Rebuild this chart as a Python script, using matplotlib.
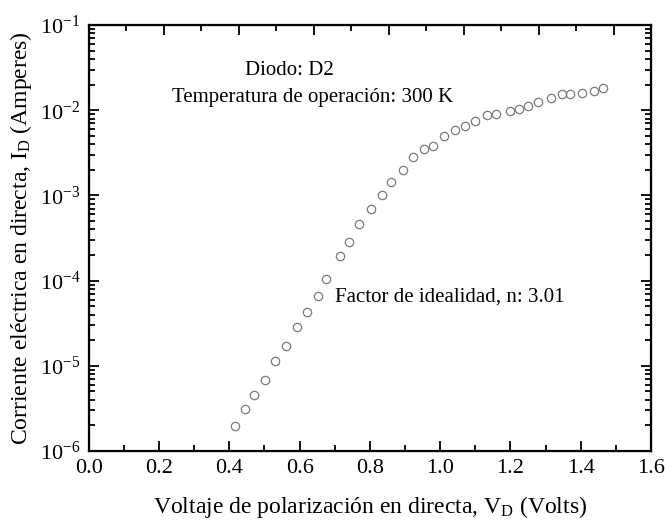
import numpy as np
import matplotlib.pyplot as plt
from matplotlib.ticker import MultipleLocator, LogLocator, NullFormatter

plt.rcParams['font.family'] = ['Liberation Serif', 'DejaVu Serif']
plt.rcParams['mathtext.fontset'] = 'custom'
plt.rcParams['mathtext.rm'] = 'Liberation Serif'
plt.rcParams['mathtext.it'] = 'Liberation Serif:italic'

voltaje = [0.416, 0.446, 0.471, 0.503, 0.529, 0.561, 0.594, 0.620, 0.652, 0.675,
           0.716, 0.740, 0.768, 0.803, 0.834, 0.860, 0.895, 0.922, 0.955, 0.979,
           1.010, 1.041, 1.071, 1.100, 1.133, 1.158, 1.198, 1.223, 1.251, 1.278,
           1.315, 1.346, 1.370, 1.404, 1.438, 1.462]
corriente = [1.96e-6, 3.14e-6, 4.58e-6, 6.81e-6, 1.15e-5, 1.69e-5, 2.88e-5, 4.25e-5,
             6.55e-5, 1.05e-4, 1.93e-4, 2.84e-4, 4.62e-4, 6.87e-4, 1.00e-3, 1.43e-3,
             1.99e-3, 2.85e-3, 3.53e-3, 3.83e-3, 4.98e-3, 5.90e-3, 6.47e-3, 7.41e-3,
             8.71e-3, 9.10e-3, 9.86e-3, 1.03e-2, 1.13e-2, 1.25e-2, 1.40e-2, 1.54e-2,
             1.54e-2, 1.60e-2, 1.68e-2, 1.81e-2]

fig = plt.figure(figsize=(6.65, 5.22), dpi=100)
ax = fig.add_axes([0.1334, 0.136, 0.8456, 0.816])

ax.plot(voltaje, corriente, 'o', mfc='none', mec='#7a7a7a', ms=6, mew=0.9)

ax.set_yscale('log')
ax.set_xlim(0, 1.6)
ax.set_ylim(1e-6, 1e-1)
ax.xaxis.set_major_locator(MultipleLocator(0.2))
ax.xaxis.set_minor_locator(MultipleLocator(0.1))
ax.xaxis.set_major_formatter(plt.FormatStrFormatter('%.1f'))
ax.yaxis.set_major_locator(LogLocator(base=10, numticks=10))
ax.yaxis.set_minor_locator(LogLocator(base=10, subs=np.arange(2, 10), numticks=10))
ax.yaxis.set_minor_formatter(NullFormatter())

ax.tick_params(which='both', direction='in', right=True, width=1.3, labelsize=16)
ax.tick_params(which='major', length=7, pad=6)
ax.tick_params(which='minor', length=4)
for s in ax.spines.values():
    s.set_linewidth(1.6)

# eje superior (0 a 1.5, como en el original)
top = ax.twiny()
top.set_xlim(0, 1.5)
top.xaxis.set_major_locator(MultipleLocator(0.2))
top.xaxis.set_minor_locator(MultipleLocator(0.1))
top.tick_params(which='both', direction='in', labeltop=False, width=1.3)
top.tick_params(which='major', length=7)
top.tick_params(which='minor', length=4)

ax.set_xlabel(r'Voltaje de polarización en directa, V$_{\mathrm{D}}$ (Volts)', fontsize=17, labelpad=11)
ax.set_ylabel(r'Corriente eléctrica en directa, I$_{\mathrm{D}}$ (Amperes)', fontsize=17, labelpad=4)

ax.text(0.278, 0.8826, 'Diodo: D2', transform=ax.transAxes, ha='left', va='baseline', fontsize=15)
ax.text(0.148, 0.820, 'Temperatura de operación: 300 K', transform=ax.transAxes, ha='left', va='baseline', fontsize=15)
ax.text(0.438, 0.352, 'Factor de idealidad, n: 3.01', transform=ax.transAxes, ha='left', va='baseline', fontsize=15)

fig.savefig('out.png', dpi=100)
